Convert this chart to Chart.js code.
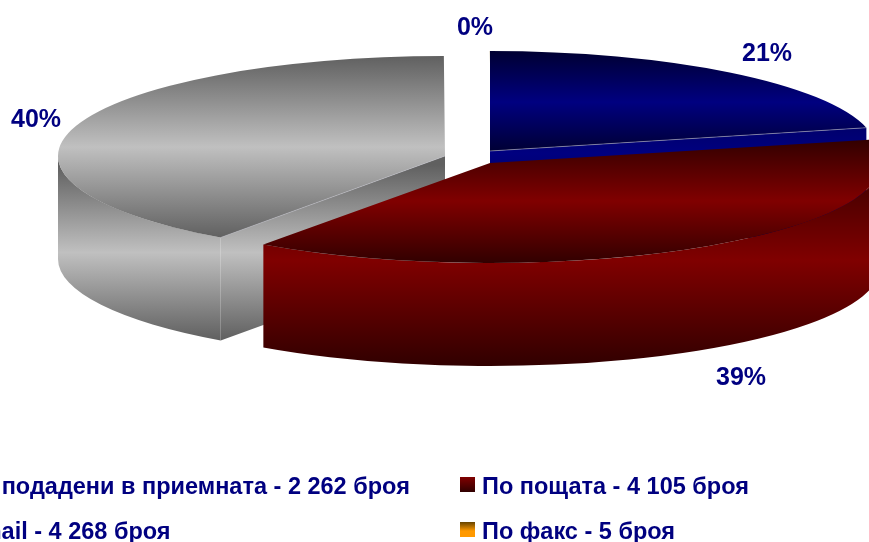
<!DOCTYPE html>
<html lang="en">
<head>
  <meta charset="UTF-8" />
  <title>Подадени сигнали</title>
  <script src="https://cdn.jsdelivr.net/npm/chart.js"></script>
  <style>
    html, body { margin: 0; padding: 0; background: #fff; overflow: hidden; }
    canvas { display: block; }
  </style>
</head>
<body>
  <canvas id="chartPie" width="869" height="542"></canvas>

  <script>
    const categories = [
      'Лично подадени в приемната - 2 262 броя',
      'По пощата - 4 105 броя',
      'По e-mail - 4 268 броя',
      'По факс - 5 броя'
    ];
    const values = [2262, 4105, 4268, 5];
    const darkColors = ['#000033', '#300000', '#606060', '#664400'];
    const lightColors = ['#000080', '#800000', '#c0c0c0', '#ff9900'];

    // Fake 3D: every slice is squashed into an ellipse and moved to its exploded centre
    const radiusX = [387, 391, 387, 387];
    const ry = 100, depth = 103;
    const centres = [[490, 151], [490, 163], [445, 156], [491, 151]];
    // vertical range of the top face gradient, per slice
    const topBands = [[52, 152], [138, 264], [56, 238], [56, 238]];
    const wallBands = [[52, 255], [153, 367], [165, 340], [56, 340]];
    const wallEdge = ['end', null, 'start', null];
    const labelPos = [[767, 54], [741, 378], [36, 120], [475, 28]];
    // the 5 piece slice is too thin to show in the picture, it sits behind the blue one
    const drawOrder = [3, 2, 0, 1];

    function bandGradient(ctx, y0, y1, i) {
      const g = ctx.createLinearGradient(0, y0, 0, y1);
      g.addColorStop(0, darkColors[i]);
      g.addColorStop(0.5, lightColors[i]);
      g.addColorStop(1, darkColors[i]);
      return g;
    }

    // top face gradient, in the arc's own coordinates (it is painted under the squash transform)
    function topGradient(c) {
      const area = c.chart.chartArea;
      if (!area) return lightColors[c.dataIndex];
      const R = Math.min(area.width, area.height) / 2;
      const mid = (area.top + area.bottom) / 2;
      const i = c.dataIndex;
      const toChart = y => mid + (y - centres[i][1]) * R / ry;
      return bandGradient(c.chart.ctx, toChart(topBands[i][0]), toChart(topBands[i][1]), i);
    }

    const pie3d = {
      id: 'pie3d',
      beforeDatasetsDraw(chart) {
        const ctx = chart.ctx;
        const arcs = chart.getDatasetMeta(0).data;

        drawOrder.forEach(i => {
          const arc = arcs[i];
          const [cx, cy] = centres[i];
          const rx = radiusX[i];
          const sx = rx / arc.outerRadius, sy = ry / arc.outerRadius;
          const fill = bandGradient(ctx, wallBands[i][0], wallBands[i][1], i);

          // cut face that looks at the viewer
          if (wallEdge[i]) {
            const a = wallEdge[i] === 'end' ? arc.endAngle : arc.startAngle;
            ctx.beginPath();
            ctx.moveTo(cx, cy);
            ctx.lineTo(cx + rx * Math.cos(a), cy + ry * Math.sin(a));
            ctx.lineTo(cx + rx * Math.cos(a), cy + ry * Math.sin(a) + depth);
            ctx.lineTo(cx, cy + depth);
            ctx.closePath();
            ctx.fillStyle = fill;
            ctx.fill();
          }

          // outer rim, front half only
          const from = Math.max(arc.startAngle, 0), to = Math.min(arc.endAngle, Math.PI);
          if (to > from) {
            ctx.beginPath();
            ctx.ellipse(cx, cy, rx, ry, 0, from, to);
            ctx.ellipse(cx, cy + depth, rx, ry, 0, to, from, true);
            ctx.closePath();
            ctx.fillStyle = fill;
            ctx.fill();
          }

          // top face, drawn by the arc element itself
          ctx.save();
          ctx.translate(cx, cy);
          ctx.scale(sx, sy);
          ctx.translate(-arc.x, -arc.y);
          arc.draw(ctx);
          ctx.restore();

          // thin light ridge along the cut
          if (wallEdge[i]) {
            const a = wallEdge[i] === 'end' ? arc.endAngle : arc.startAngle;
            ctx.beginPath();
            ctx.moveTo(cx, cy);
            ctx.lineTo(cx + rx * Math.cos(a), cy + ry * Math.sin(a));
            ctx.strokeStyle = 'rgba(190,190,200,0.5)';
            ctx.lineWidth = 1;
            ctx.stroke();
          }
        });
        return false;
      },
      afterDraw(chart) {
        const ctx = chart.ctx;
        const total = values.reduce((a, b) => a + b, 0);
        ctx.save();
        ctx.fillStyle = '#000080';
        ctx.textBaseline = 'middle';

        // percentage labels
        ctx.font = 'bold 25px "Liberation Sans", Arial, sans-serif';
        ctx.textAlign = 'center';
        values.forEach((v, i) => {
          ctx.fillText(Math.round(v / total * 100) + '%', labelPos[i][0], labelPos[i][1]);
        });

        // legend, 2 columns; the left column runs off the edge of the picture
        ctx.font = 'bold 23.5px "Liberation Sans", Arial, sans-serif';
        ctx.textAlign = 'left';
        const legendX = [-100, 460], legendY = [486, 531];
        categories.forEach((name, i) => {
          const x = legendX[i % 2], y = legendY[i >> 1];
          const g = ctx.createLinearGradient(0, y - 9, 0, y + 6);
          if (i === 3) {
            g.addColorStop(0, darkColors[i]);
            g.addColorStop(0.6, lightColors[i]);
            g.addColorStop(1, lightColors[i]);
          } else {
            g.addColorStop(0, lightColors[i]);
            g.addColorStop(1, darkColors[i]);
          }
          ctx.fillStyle = g;
          ctx.fillRect(x, y - 9, 15, 15);
          ctx.fillStyle = '#000080';
          ctx.fillText(name, x + 22, y + 1.5);
        });
        ctx.restore();
      }
    };

    const chartPie = new Chart(document.getElementById('chartPie').getContext('2d'), {
      type: 'pie',
      data: {
        labels: categories,
        datasets: [{ data: values, backgroundColor: topGradient, borderWidth: 0 }]
      },
      options: {
        responsive: false,
        animation: false,
        plugins: { legend: { display: false }, tooltip: { enabled: false } }
      },
      plugins: [pie3d]
    });
  </script>
</body>
</html>
